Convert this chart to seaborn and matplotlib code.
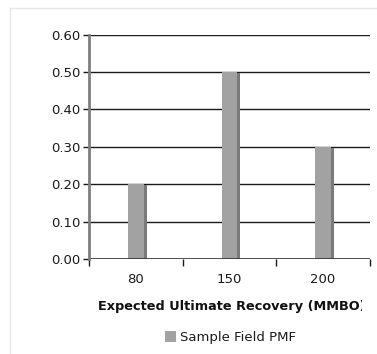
import matplotlib
matplotlib.use("Agg")
import matplotlib.pyplot as plt
import matplotlib.patheffects as pe
from matplotlib.lines import Line2D
from matplotlib.patches import Patch
from matplotlib.transforms import Bbox, TransformedBbox
import seaborn as sns
import pandas as pd

# Expected ultimate recovery outcomes and their probabilities
eur_mmbo = ["80", "150", "200"]
probability = [0.20, 0.50, 0.30]
y_ticks = [0.0, 0.1, 0.2, 0.3, 0.4, 0.5, 0.6]
series_name = "Sample Field PMF"
x_title = "Expected Ultimate Recovery (MMBO)"

df = pd.DataFrame({"eur": eur_mmbo, "p": probability})

sns.set_theme(style="white")
plt.rcParams["font.family"] = ["DejaVu Sans"]

fig = plt.figure(figsize=(3.77, 3.54), dpi=100)
ax = fig.add_axes([0.236, 0.268, 0.745, 0.6345])

bar_color = "#a2a2a2"
sns.barplot(data=df, x="eur", y="p", color=bar_color, width=0.165,
            saturation=1, ax=ax, zorder=3)

# Offset shadow on the right of each bar
for bar in ax.patches:
    bar.set_edgecolor("none")
    bar.set_path_effects([
        pe.SimplePatchShadow(offset=(2.2, -0.7), shadow_rgbFace="#7a7a7a", alpha=1.0),
        pe.Normal(),
    ])

ax.set_ylim(0, 0.6)
ax.set_yticks(y_ticks)
ax.set_yticklabels([f"{v:.2f}" for v in y_ticks])
ax.set_xlim(-0.5, 2.5)

# Horizontal gridlines
for v in y_ticks[1:]:
    ax.axhline(v, color="#1a1a1a", lw=1.0, zorder=1)
ax.axhline(0, color="#303030", lw=1.2, zorder=4)

for s in ["top", "right"]:
    ax.spines[s].set_visible(False)
ax.spines["bottom"].set_visible(False)
ax.spines["left"].set_color("#7f7f7f")
ax.spines["left"].set_linewidth(2.0)
ax.spines["left"].set_zorder(5)

ax.tick_params(axis="y", which="major", left=True, length=4, width=1,
               color="#1a1a1a", labelsize=9.5, labelcolor="#1a1a1a", pad=2)
ax.set_xticks([-0.5, 0.5, 1.5, 2.5], minor=True)
ax.tick_params(axis="x", which="major", bottom=False, length=0,
               labelsize=9.5, labelcolor="#1a1a1a", pad=10)
ax.tick_params(axis="x", which="minor", bottom=True, length=5, width=1,
               color="#1a1a1a", direction="out")

ax.set_ylabel("")
xl = ax.set_xlabel(x_title, fontsize=9.3, fontweight="bold", color="#111111")
ax.xaxis.set_label_coords(0.507, -0.209)
xl.set_verticalalignment("center")
xl.set_horizontalalignment("center")

# Legend below the title
handle = Patch(facecolor=bar_color, edgecolor="none")
fig.legend([handle], [series_name], loc="center", bbox_to_anchor=(0.612, 0.046),
           frameon=False, fontsize=9.5, handlelength=0.85, handleheight=0.85,
           handletextpad=0.3, labelcolor="#1a1a1a", borderpad=0)

# Faint chart-area frame
fig.add_artist(Line2D([10/377, 10/377], [0, 1 - 8/354], transform=fig.transFigure,
                      color="#e6e6e6", lw=1))
fig.add_artist(Line2D([10/377, 1], [1 - 8/354, 1 - 8/354], transform=fig.transFigure,
                      color="#e6e6e6", lw=1))

# Clip the axis title at the right edge of the chart area
clip = TransformedBbox(Bbox([[0, 0], [362/377, 1]]), fig.transFigure)
xl.set_clip_box(clip)
xl.set_clip_on(True)

fig.savefig("out.png", dpi=100)
